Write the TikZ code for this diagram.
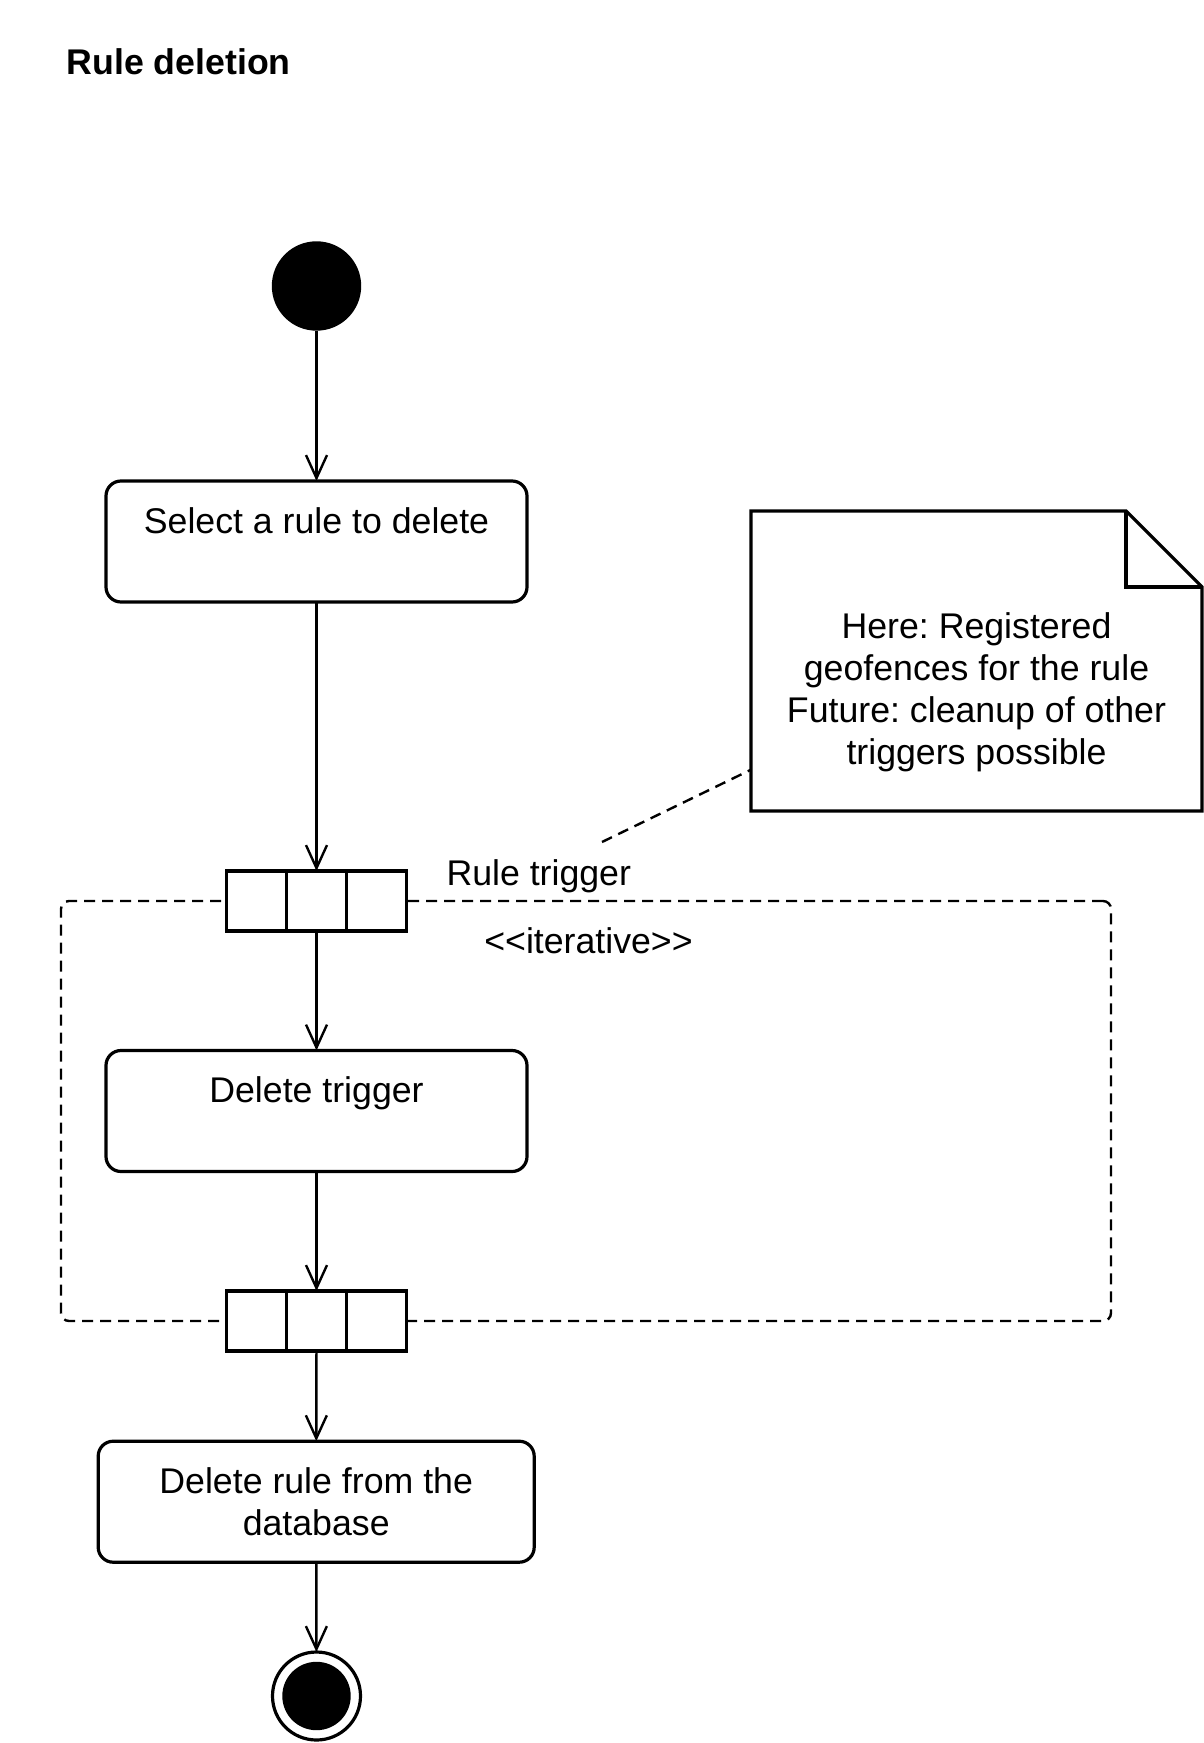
\documentclass[tikz,border=0pt]{standalone}
\usepackage{fontspec}
\setmainfont{Liberation Sans}
\usetikzlibrary{arrows.meta,calc}
\begin{document}
\frenchspacing
\begin{tikzpicture}[x=0.5pt,y=-0.5pt,
  every node/.style={inner sep=0pt, outer sep=0pt, font=\fontsize{17.85pt}{21pt}\selectfont},
  conn/.style={line width=1.2pt, -{Straight Barb[length=11.5pt,width=10.5pt,line width=1.2pt]}},
  actbox/.style={draw, line width=1.6pt, rounded corners=7.5pt, minimum width=210.5pt, minimum height=60.5pt, align=center, text height=10pt, text depth=18.5pt},
  pinbox/.style={draw, fill=white, line width=1.6pt, minimum width=90pt, minimum height=30pt,
    path picture={\draw[line width=1.6pt]
      ($(path picture bounding box.north west)!1/3!(path picture bounding box.north east)$) --
      ($(path picture bounding box.south west)!1/3!(path picture bounding box.south east)$)
      ($(path picture bounding box.north west)!2/3!(path picture bounding box.north east)$) --
      ($(path picture bounding box.south west)!2/3!(path picture bounding box.south east)$);}},
  initial/.style={circle, fill=black, minimum size=44.7pt},
  final/.style={circle, draw, line width=1.6pt, minimum size=44pt,
    path picture={\fill[black] (path picture bounding box.center) circle (17.1pt);}},
  region/.style={draw, line width=1.2pt, dash pattern=on 5.5pt off 3.5pt, rounded corners=4pt, minimum width=525pt, minimum height=210pt},
  notebox/.style={align=center, minimum width=225.5pt, minimum height=150pt, text height=105pt, text depth=2pt},
  noteedge/.style={line width=1.6pt, line join=miter},
  noteline/.style={line width=1.2pt, dash pattern=on 5.5pt off 3.5pt}
]
\fill[white] (0,0) rectangle (1203,1743);
\useasboundingbox (0,0) rectangle (1203,1743);

% title
\node[anchor=base west, font=\fontsize{17.85pt}{21pt}\selectfont\bfseries] (title) at (66.5,75) {Rule deletion};

% loop region
\node[region] (loop) at (586,1111) {};

% nodes
\node[initial] (start) at (316.5,286) {};
\node[actbox] (sel) at (316.5,541.5) {Select a rule to delete};
\node[pinbox] (pin1) at (316.5,901) {};
\node[actbox] (deltrig) at (316.5,1111) {Delete trigger};
\node[pinbox] (pin2) at (316.5,1321) {};
\node[actbox, minimum width=218pt, text height=35pt, text depth=1.7pt] (delrule) at (316.2,1501.7) {Delete rule from the\\database};
\node[final] (end) at (316.5,1696) {};

% labels
\node[anchor=base west] (trig) at (446.5,885) {Rule trigger};
\node[anchor=base] (iter) at (588.5,953) {<{}<iterative>{}>};

% note
\node[notebox] (note) at (976.5,661) {Here: Registered\\geofences for the rule\\Future: cleanup of other\\triggers possible};
\draw[noteedge] (note.north west) -- ($(note.north east)+(-76,0)$) -- ($(note.north east)+(0,76)$) -- (note.south east) -- (note.south west) -- cycle;
\draw[noteedge] ($(note.north east)+(-76,0)$) -- ($(note.north east)+(-76,76)$) -- ($(note.north east)+(0,76)$);
\coordinate (nfree) at (602,842);
\draw[noteline] (nfree) -- (note);

% connectors
\draw[conn] (start) -- (sel);
\draw[conn] (sel) -- (pin1);
\draw[conn] (pin1) -- (deltrig);
\draw[conn] (deltrig) -- (pin2);
\draw[conn] (pin2) -- (delrule);
\draw[conn] (delrule) -- (end);
\end{tikzpicture}
\end{document}
